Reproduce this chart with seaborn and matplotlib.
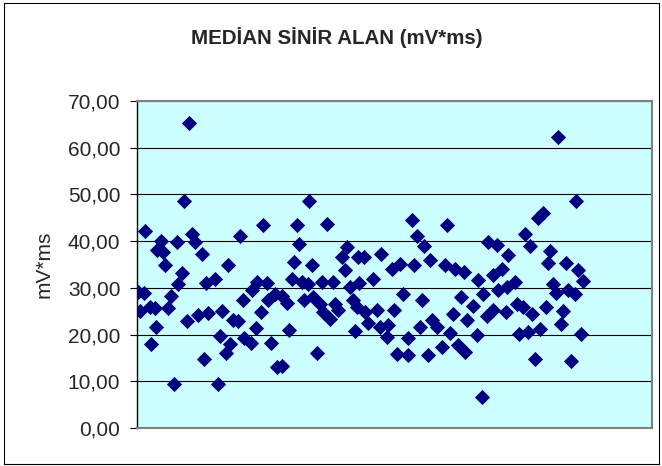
import matplotlib
matplotlib.use("Agg")
import matplotlib.pyplot as plt
import seaborn as sns
import pandas as pd
from matplotlib.patches import Rectangle

# Patient index (x) and median nerve area values (y, mV*ms)
patient = [
    25.2, 22.8, 4.0, 11.5, 19.3, 26.6, 9.6, 12.8, 28.2, 31.4, 13.6, 21.7, 20.0, 33.5,
    0.5, 3.4, 16.4, 1.5, 6.3, 8.7, 15.2, 24.1, 29.8, 34.6, 9.2, 6.6, 32.5, 18.0,
    61.3, 50.0, 44.0, 37.9, 58.1, 63.0, 55.7, 67.0, 70.2, 51.6, 63.5, 41.4, 46.7, 49.2,
    60.2, 57.6, 40.3, 45.1, 43.1, 52.1, 55.2, 65.0, 67.8, 39.2,
    83.6, 77.5, 92.4, 78.8, 101.8, 99.4, 76.2, 84.8, 101.0, 107.4, 75.1, 79.9, 83.1, 89.7,
    95.0, 103.4, 107.8, 73.0, 81.1, 85.6, 88.8, 90.4, 93.7, 96.1, 97.7, 104.7, 106.6, 73.9,
    105.8, 87.5, 70.5,
    133.3, 135.8, 139.5, 142.2, 110.3, 118.4, 123.6, 127.7, 134.6, 114.7, 129.3, 138.5,
    110.7, 116.4, 124.9, 112.3, 118.0, 122.0, 121.2, 131.7, 137.4, 143.0, 126.1, 131.4, 141.1,
    150.6, 170.5, 174.6, 149.5, 154.4, 158.7, 165.7, 172.7, 177.0, 180.2, 157.1, 168.1, 175.4,
    179.5, 163.2, 153.2, 145.5, 151.9, 160.3, 164.9, 169.7, 173.0, 179.1, 147.9, 156.0, 159.2, 167.3,
    204.5, 212.9, 194.5, 197.2, 188.3, 190.8, 200.5, 199.4, 208.1, 214.2, 216.6, 183.5, 202.1,
    203.2, 209.1, 212.6, 184.3, 187.5, 191.9, 198.4, 206.9, 205.8, 185.4, 189.6, 195.6, 215.5,
    193.2, 210.7,
]
area = [
    65.2, 48.6, 42.2, 40.0, 39.8, 41.6, 38.0, 37.7, 39.8, 37.3, 35.0, 33.2, 30.9, 31.0,
    29.1, 28.8, 28.2, 25.1, 25.9, 25.6, 25.6, 22.9, 24.1, 24.6, 21.6, 17.9, 14.7, 9.4,
    43.4, 41.2, 35.0, 32.0, 31.3, 31.0, 29.6, 28.6, 28.2, 27.5, 27.4, 25.1, 23.2, 22.9,
    24.9, 21.5, 19.7, 17.9, 16.0, 19.2, 18.2, 18.2, 13.0, 9.4,
    48.7, 43.4, 43.6, 39.3, 38.7, 36.6, 35.5, 35.0, 33.8, 36.6, 32.0, 31.3, 30.9, 31.3,
    31.3, 30.2, 31.0, 26.8, 27.4, 28.1, 26.6, 24.9, 23.4, 26.6, 25.2, 27.4, 25.9, 20.9,
    20.8, 16.1, 13.2,
    44.6, 41.0, 38.9, 36.0, 36.6, 37.3, 34.1, 35.2, 35.0, 31.8, 28.6, 27.4,
    24.9, 25.2, 25.2, 22.4, 21.6, 22.0, 19.5, 19.2, 21.6, 23.1, 15.8, 15.6, 15.6,
    43.4, 39.8, 39.1, 35.0, 34.1, 33.4, 31.6, 32.7, 34.1, 37.0, 28.1, 28.6, 29.6,
    30.2, 26.1, 24.5, 21.6, 20.4, 23.1, 19.9, 23.9, 25.2, 24.9, 17.4, 17.7, 16.3, 6.6,
    62.3, 48.7, 45.0, 46.0, 41.5, 38.9, 37.9, 35.3, 35.3, 33.8, 31.5, 31.3, 30.8,
    28.8, 29.5, 28.6, 26.5, 25.9, 24.4, 25.8, 25.1, 22.2, 20.2, 20.6, 21.1, 20.1,
    14.7, 14.4,
]
y_ticks = [0, 10, 20, 30, 40, 50, 60, 70]
y_tick_labels = ["0,00", "10,00", "20,00", "30,00", "40,00", "50,00", "60,00", "70,00"]
title = "MEDİAN SİNİR ALAN (mV*ms)"
y_label = "mV*ms"

df = pd.DataFrame({"hasta": patient, "alan": area})

sns.set_theme(style="white")
plt.rcParams["font.family"] = ["Liberation Sans", "DejaVu Sans"]

fig = plt.figure(figsize=(6.62, 4.66), dpi=100)
ax = fig.add_axes([137 / 662, 1 - 428 / 466, (652 - 137) / 662, (428 - 101) / 466])
ax.set_facecolor("#CCFFFF")

sns.scatterplot(data=df, x="hasta", y="alan", ax=ax, marker="D", s=60,
                color="#000080", linewidth=0, zorder=3)

ax.set_xlim(0, 250)
ax.set_ylim(0, 70)
ax.set_yticks(y_ticks)
ax.set_yticklabels(y_tick_labels, fontsize=15)
ax.set_xticks([])
ax.yaxis.grid(True, color="black", linewidth=0.8)
ax.set_axisbelow(True)
ax.tick_params(axis="y", which="major", left=True, length=5, width=0.8,
               color="black", direction="out", pad=7)
ax.set_xlabel("")
ax.set_ylabel(y_label, fontsize=15)
ax.yaxis.set_label_coords((54 - 137) / 515, 0.5)

for side in ["top", "right", "bottom"]:
    ax.spines[side].set_color("#808080")
    ax.spines[side].set_linewidth(1.5)
ax.spines["left"].set_color("black")
ax.spines["left"].set_linewidth(1.0)

fig.text(337 / 662, 1 - 38 / 466, title, ha="center", va="center",
         fontsize=14.8, fontweight="bold")

fig.patches.append(Rectangle((4 / 662, 2 / 466), 655 / 662, 461 / 466,
                             transform=fig.transFigure, fill=False,
                             edgecolor="black", linewidth=0.8))

fig.savefig("out.png", dpi=100)
